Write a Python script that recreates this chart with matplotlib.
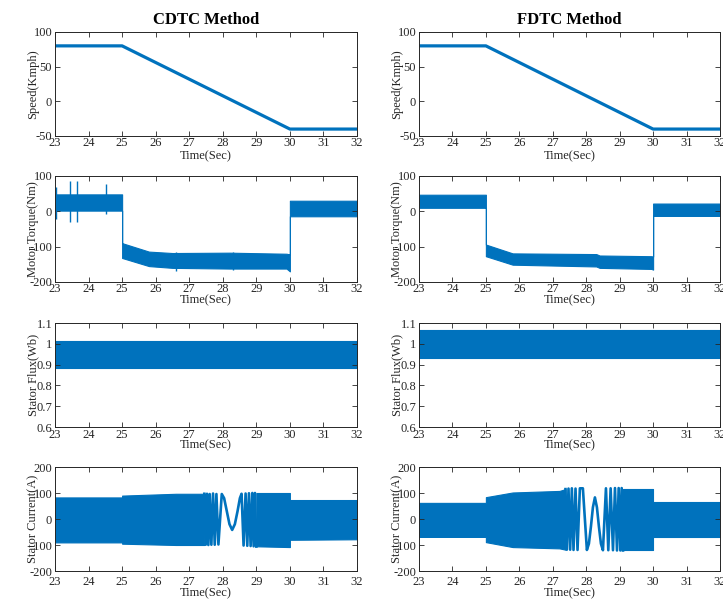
import matplotlib
matplotlib.use("Agg")
import matplotlib.pyplot as plt
import numpy as np

plt.rcParams['font.family'] = ['Liberation Serif', 'DejaVu Serif']
plt.rcParams['axes.unicode_minus'] = False

BLUE = '#0072BD'
AX_COL = '#262626'

# ---------------- data ----------------
# Speed (Kmph)
speed_t = [23, 25, 30, 32]
speed_cdtc = [80, 80, -40, -40]
speed_fdtc = [80, 80, -40, -40]

# Motor torque envelope (Nm)
torque_c_t = [23, 25, 25, 25.8, 26.5, 28.2, 29.9, 30, 30, 32]
torque_c_hi = [48, 48, -90, -114, -118, -117, -120, -122, 30, 30]
torque_c_lo = [2, 2, -132, -155, -160, -162, -162, -170, -14, -14]
torque_c_spike_t = [23.02, 23.45, 23.65, 24.52, 26.6, 28.3]
torque_c_spike_hi = [68, 85, 86, 78, -115, -114]
torque_c_spike_lo = [-22, -30, -30, -8, -168, -167]

torque_f_t = [23, 25, 25, 25.8, 28.3, 28.4, 29.95, 30, 30, 32]
torque_f_hi = [47, 47, -94, -119, -121, -125, -127, -128, 22, 22]
torque_f_lo = [10, 10, -127, -151, -156, -160, -163, -165, -13, -13]

# Stator flux envelope (Wb)
flux_t = [23, 32]
flux_c_hi = [1.015, 1.015]
flux_c_lo = [0.885, 0.885]
flux_f_hi = [1.068, 1.068]
flux_f_lo = [0.932, 0.932]

# Stator current envelope (A) and low-frequency section
cur_c_band1_t = [23, 25, 25, 26.6, 27.45]
cur_c_band1_hi = [83, 83, 90, 97, 97]
cur_c_band1_lo = [-90, -90, -95, -100, -100]
cur_c_band2_t = [29.0, 30, 30, 32]
cur_c_band2_hi = [100, 100, 73, 73]
cur_c_band2_lo = [-105, -108, -80, -78]
cur_c_wave_t = [27.45, 27.49, 27.53, 27.57, 27.61, 27.66, 27.71, 27.76, 27.81, 27.87,
                27.97, 28.04, 28.12, 28.20, 28.28, 28.36, 28.44, 28.51, 28.56,
                28.62, 28.68, 28.73, 28.78, 28.83, 28.88, 28.92, 28.96, 29.00]
cur_c_wave_v = [97, -99, 97, -100, 96, -99, 98, -99, 96, -98,
                96, 80, 30, -20, -42, -20, 30, 80, 97,
                -102, 98, -103, 99, -104, 100, -105, 100, -106]

cur_f_band1_t = [23, 25, 25, 25.8, 27.2, 27.38]
cur_f_band1_hi = [62, 62, 84, 102, 108, 115]
cur_f_band1_lo = [-69, -69, -89, -108, -113, -118]
cur_f_band2_t = [29.1, 30, 30, 32]
cur_f_band2_hi = [117, 117, 66, 66]
cur_f_band2_lo = [-121, -121, -70, -70]
cur_f_wave_t = [27.38, 27.42, 27.47, 27.52, 27.57, 27.62, 27.68, 27.74, 27.81, 27.90,
                28.02, 28.08, 28.14, 28.20, 28.26, 28.32, 28.38, 28.44, 28.50,
                28.59, 28.66, 28.73, 28.80, 28.86, 28.92, 28.97, 29.02, 29.06, 29.10]
cur_f_wave_v = [115, -118, 117, -118, 118, -119, 117, -119, 118, 118,
                -119, -95, -30, 45, 83, 45, -30, -95, -120,
                118, -120, 118, -120, 119, -121, 119, -121, 119, -121]

xticks = list(range(23, 33))

# ---------------- figure ----------------
W, H = 723, 601
fig = plt.figure(figsize=(W / 100, H / 100), dpi=100)

col_left = [55, 419]
col_width = [302, 301]
rows = [(32, 136), (176, 282), (323, 427), (467, 571)]
tick_pad_px = [1.5, 1.5, 1.5, 5]
xlabel_off_px = [14, 12, 12, 16]


def make_ax(r, c):
    top, bot = rows[r]
    ax = fig.add_axes([col_left[c] / W, 1 - bot / H, col_width[c] / W, (bot - top) / H])
    ax.set_xlim(23, 32)
    ax.set_xticks(xticks)
    ax.tick_params(direction='in', top=True, right=True, length=3.5, width=0.6,
                   colors=AX_COL, labelsize=9)
    ax.tick_params(axis='x', pad=tick_pad_px[r] * 0.72)
    ax.tick_params(axis='y', pad=2)
    for s in ax.spines.values():
        s.set_color(AX_COL)
        s.set_linewidth(0.7)
    ax.set_xlabel('Time(Sec)', fontsize=9, color=AX_COL)
    ax.xaxis.set_label_coords(0.5, -xlabel_off_px[r] / (bot - top))
    return ax


def set_ylab(ax, text, c):
    ax.set_ylabel(text, fontsize=9, color=AX_COL)
    ax.yaxis.set_label_coords(-16 / col_width[c], 0.5)


def band(ax, t, lo, hi):
    ax.fill_between(t, lo, hi, color=BLUE, lw=0.8, edgecolor=BLUE)


for c in range(2):
    # Speed
    ax = make_ax(0, c)
    ax.plot(speed_t, speed_cdtc if c == 0 else speed_fdtc, color=BLUE, lw=2.3,
            solid_capstyle='butt')
    ax.set_ylim(-50, 100)
    ax.set_yticks([-50, 0, 50, 100])
    set_ylab(ax, 'Speed(Kmph)', c)
    ax.set_title('CDTC Method' if c == 0 else 'FDTC Method', fontsize=12,
                 fontweight='bold', pad=6)

    # Torque
    ax = make_ax(1, c)
    if c == 0:
        band(ax, torque_c_t, torque_c_lo, torque_c_hi)
        ax.vlines(torque_c_spike_t, torque_c_spike_lo, torque_c_spike_hi, color=BLUE, lw=1)
    else:
        band(ax, torque_f_t, torque_f_lo, torque_f_hi)
    ax.set_ylim(-200, 100)
    ax.set_yticks([-200, -100, 0, 100])
    set_ylab(ax, 'Motor Torque(Nm)', c)

    # Flux
    ax = make_ax(2, c)
    if c == 0:
        band(ax, flux_t, flux_c_lo, flux_c_hi)
    else:
        band(ax, flux_t, flux_f_lo, flux_f_hi)
    ax.set_ylim(0.6, 1.1)
    ax.set_yticks([0.6, 0.7, 0.8, 0.9, 1.0, 1.1])
    ax.set_yticklabels(['0.6', '0.7', '0.8', '0.9', '1', '1.1'])
    set_ylab(ax, 'Stator Flux(Wb)', c)

    # Current
    ax = make_ax(3, c)
    if c == 0:
        band(ax, cur_c_band1_t, cur_c_band1_lo, cur_c_band1_hi)
        band(ax, cur_c_band2_t, cur_c_band2_lo, cur_c_band2_hi)
        ax.plot(cur_c_wave_t, cur_c_wave_v, color=BLUE, lw=1.9, solid_joinstyle='round')
    else:
        band(ax, cur_f_band1_t, cur_f_band1_lo, cur_f_band1_hi)
        band(ax, cur_f_band2_t, cur_f_band2_lo, cur_f_band2_hi)
        ax.plot(cur_f_wave_t, cur_f_wave_v, color=BLUE, lw=1.9, solid_joinstyle='round')
    ax.set_ylim(-200, 200)
    ax.set_yticks([-200, -100, 0, 100, 200])
    set_ylab(ax, 'Stator Current(A)', c)

fig.savefig('out.png', dpi=100)
